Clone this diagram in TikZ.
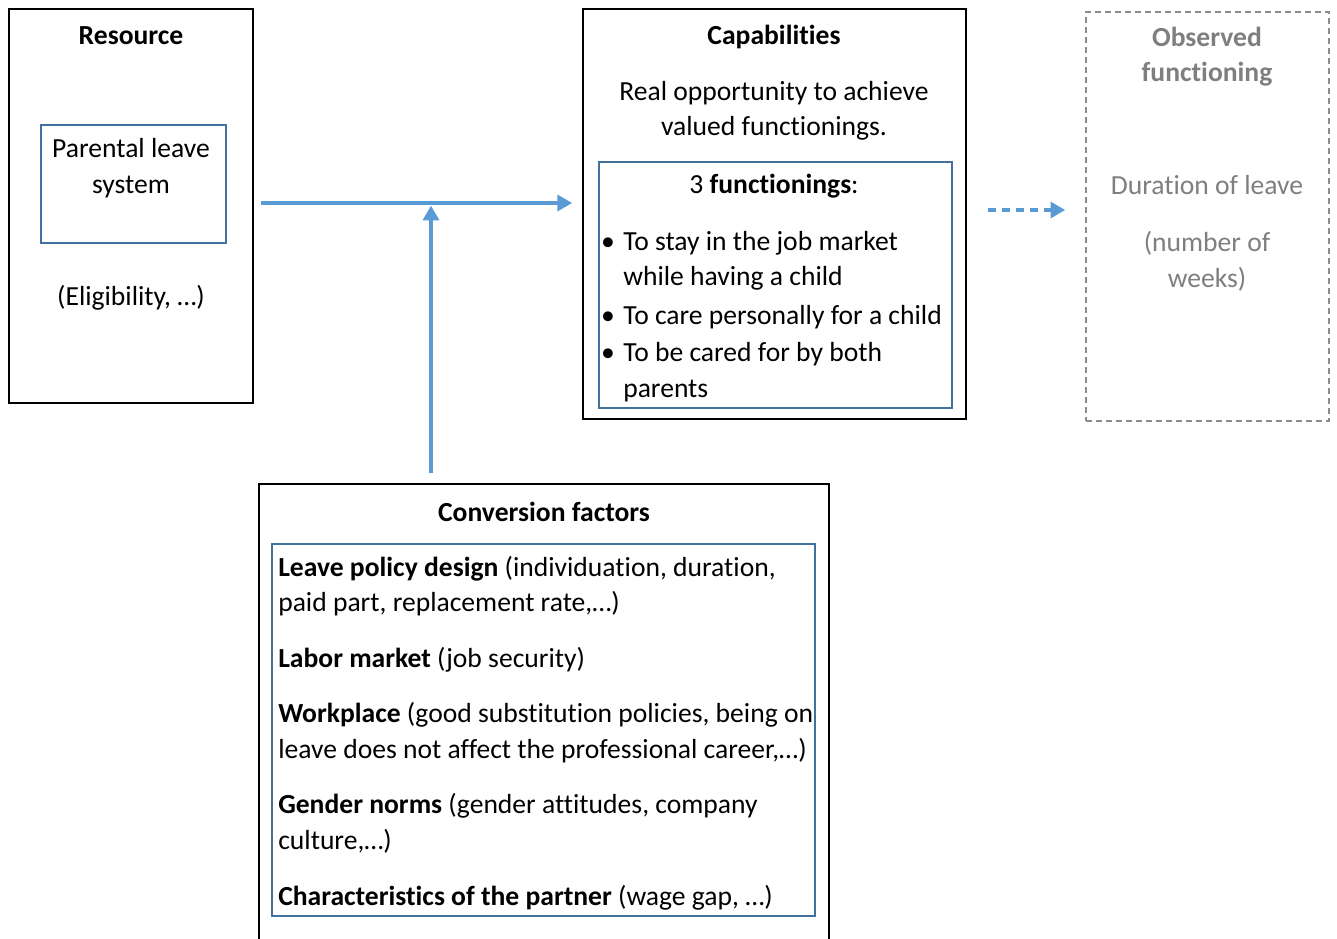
\documentclass[tikz,border=0pt]{standalone}
\usepackage{fontspec}
\setmainfont[Ligatures=NoCommon]{Carlito}
\usetikzlibrary{arrows.meta}
\definecolor{arrowblue}{HTML}{5B9BD5}
\definecolor{boxblue}{HTML}{41719C}
\definecolor{greytext}{HTML}{7F7F7F}
\definecolor{greyline}{HTML}{8C8C8C}
\begin{document}
\begin{tikzpicture}[x=0.75pt,y=-0.75pt,
  outerbox/.style={draw=black,line width=1.3pt,inner sep=0pt,rectangle},
  innerbox/.style={draw=boxblue,line width=1.5pt,inner sep=0pt,rectangle},
  dashbox/.style={draw=greyline,line width=1.2pt,inner sep=0pt,rectangle,dash pattern=on 4.5pt off 3pt},
  txt/.style={inner sep=0pt,anchor=base,font=\fontsize{20.7}{24}\selectfont},
  ltxt/.style={txt,anchor=base west},
  gtxt/.style={txt,text=greytext},
  arr/.style={draw=arrowblue,line width=2.5pt,-{Triangle[length=11pt,width=12pt]}},
  darr/.style={arr,dash pattern=on 6pt off 4.5pt}]
\path[use as bounding box,clip] (0,0) rectangle (1337,938);
\fill[white] (0,0) rectangle (1337,938);
% boxes
\node[outerbox,minimum width=183pt,minimum height=295.5pt] (res) at (131,206) {};
\node[innerbox,minimum width=138.75pt,minimum height=88.5pt] (pls) at (133.5,184) {};
\node[outerbox,minimum width=287.25pt,minimum height=307.5pt] (cap) at (774.5,214) {};
\node[innerbox,minimum width=264.75pt,minimum height=184.5pt] (fun) at (775.5,285) {};
\node[dashbox,minimum width=182.25pt,minimum height=306.75pt] (obs) at (1207.5,216.5) {};
\node[outerbox,minimum width=427.5pt,minimum height=357pt] (conv) at (544,722) {};
\node[innerbox,minimum width=407.25pt,minimum height=279pt] (fac) at (543.5,730) {};
% Resource texts
\node[txt] (r1) at (131,45) {\textbf{Resource}};
\node[txt] (r2) at (131,157) {Parental leave};
\node[txt] (r3) at (131,193) {system};
\node[txt] (r4) at (131,305) {(Eligibility, …)};
% Capabilities texts
\node[txt] (c1) at (774,45) {\textbf{Capabilities}};
\node[txt] (c2) at (774,101) {Real opportunity to achieve};
\node[txt] (c3) at (774,136) {valued functionings.};
\node[txt] (c4) at (774,193) {3 \textbf{functionings}:};
\node[txt] (b1) at (608,250) {\textbullet};
\node[txt] (b2) at (608,324) {\textbullet};
\node[txt] (b3) at (608,361) {\textbullet};
\node[ltxt] (f1) at (623,250) {To stay in the job market};
\node[ltxt] (f2) at (623,285) {while having a child};
\node[ltxt] (f3) at (623,324) {To care personally for a child};
\node[ltxt] (f4) at (623,361) {To be cared for by both};
\node[ltxt] (f5) at (623,397) {parents};
% Observed texts
\node[gtxt] (o1) at (1207,47) {\textbf{Observed}};
\node[gtxt] (o2) at (1207,82) {\textbf{functioning}};
\node[gtxt] (o3) at (1207,195) {Duration of leave};
\node[gtxt] (o4) at (1207,251) {(number of};
\node[gtxt] (o5) at (1207,287) {weeks)};
% Conversion texts
\node[txt] (k0) at (544,521) {\textbf{Conversion factors}};
\node[ltxt] (k1) at (278,576) {\textbf{Leave policy design} (individuation, duration,};
\node[ltxt] (k2) at (278,611) {paid part, replacement rate,…)};
\node[ltxt] (k3) at (278,667) {\textbf{Labor market} (job security)};
\node[ltxt] (k4) at (278,722) {\textbf{Workplace} (good substitution policies, being on};
\node[ltxt] (k5) at (278,758) {leave does not affect the professional career,…)};
\node[ltxt] (k6) at (278,813) {\textbf{Gender norms} (gender attitudes, company};
\node[ltxt] (k7) at (278,849) {culture,…)};
\node[ltxt] (k8) at (278,905) {\textbf{Characteristics of the partner} (wage gap, …)};
% connectors
\coordinate (jn) at (431,203);
\coordinate (dj) at (0,210);
\draw[arr,shorten <=5.25pt,shorten >=7.5pt] (res.east |- jn) -- (cap.west |- jn);
\draw[arr,shorten <=7.5pt,shorten >=2pt] (conv.north -| jn) -- (jn);
\draw[darr,shorten <=15.75pt,shorten >=15pt] (cap.east |- dj) -- (obs.west |- dj);
\end{tikzpicture}
\end{document}
